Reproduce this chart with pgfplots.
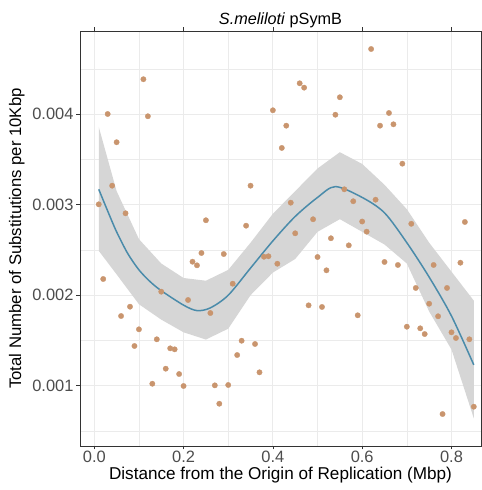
\documentclass[border=0pt]{standalone}
\usepackage{pgfplots}
\pgfplotsset{compat=1.18}
\usepackage{fontspec}
\setmainfont{Liberation Sans}
\definecolor{ptcol}{HTML}{C9956E}
\definecolor{fitcol}{HTML}{4A8BAA}
\definecolor{bandcol}{HTML}{D6D6D6}
\definecolor{gridcol}{HTML}{EBEBEB}
\definecolor{tickcol}{HTML}{4D4D4D}
\definecolor{framecol}{HTML}{333333}
\begin{document}
\begin{tikzpicture}[x=1bp,y=1bp]
\begin{axis}[
  name=ax,
  at={(0,0)}, anchor=south west,
  scale only axis,
  width=401bp, height=415bp,
  xmin=-0.032, xmax=0.8661,
  ymin=0.000334, ymax=0.004919,
  axis line style={framecol, line width=0.7pt},
  xtick={0,0.2,0.4,0.6,0.8},
  xticklabels={0.0,0.2,0.4,0.6,0.8},
  ytick={0.001,0.002,0.003,0.004},
  yticklabels={0.001,0.002,0.003,0.004},
  minor xtick={0.1,0.3,0.5,0.7},
  minor ytick={0.0005,0.0015,0.0025,0.0035,0.0045},
  scaled ticks=false,
  grid=both,
  major grid style={gridcol, line width=0.8pt},
  minor grid style={gridcol, line width=0.4pt},
  tick align=outside,
  major tick length=3.5bp,
  minor tick length=0pt,
  tick style={framecol, line width=0.6pt},
  ticklabel style={font=\fontsize{16.5}{19}\selectfont, text=tickcol},
  xticklabel style={yshift=1.5bp},
  yticklabel style={xshift=0.5bp},
  xlabel={Distance from the Origin of Replication (Mbp)},
  ylabel={Total Number of Substitutions per 10Kbp},
  xlabel style={font=\fontsize{17.2}{20}\selectfont, text=black, yshift=3bp},
  ylabel style={font=\fontsize{16.8}{19}\selectfont, text=black, yshift=1bp},
  title={\textit{S.meliloti} pSymB},
  title style={font=\fontsize{16.3}{19}\selectfont, yshift=-6bp},
  clip=true,
]
% confidence band
\addplot[draw=none, fill=bandcol, mark=none] coordinates {
(0.01,0.00386) (0.05,0.00315) (0.10,0.00262) (0.15,0.00235) (0.20,0.00219)
(0.25,0.00216) (0.30,0.00228) (0.35,0.00258) (0.40,0.00290) (0.45,0.00315)
(0.50,0.00340) (0.55,0.00358) (0.60,0.00345) (0.65,0.00322) (0.70,0.00295)
(0.75,0.00258) (0.80,0.00226) (0.85,0.00194)
(0.85,0.00064) (0.80,0.00140) (0.75,0.00182) (0.70,0.00235) (0.65,0.00256)
(0.60,0.00270) (0.55,0.00284) (0.50,0.00270) (0.45,0.00240) (0.40,0.00225)
(0.35,0.00200) (0.30,0.00163) (0.25,0.00151) (0.20,0.00159) (0.15,0.00173)
(0.10,0.00190) (0.05,0.00223) (0.01,0.00249)
} -- cycle;
% points
\addplot[only marks, mark=*, color=ptcol, mark size=2.7bp, mark options={solid, draw=ptcol, fill=ptcol, line width=0.3pt}] coordinates {
(0.01,0.003004) (0.02,0.002179) (0.03,0.004002) (0.04,0.003210) (0.05,0.003690)
(0.06,0.001770) (0.07,0.002905) (0.08,0.001873) (0.09,0.001439) (0.10,0.001623)
(0.11,0.004386) (0.12,0.003977) (0.13,0.001022) (0.14,0.001513) (0.15,0.002039)
(0.16,0.001188) (0.17,0.001413) (0.18,0.001402) (0.19,0.001129) (0.20,0.000997)
(0.21,0.001947) (0.22,0.002370) (0.23,0.002330) (0.24,0.002466) (0.25,0.002828)
(0.26,0.001803) (0.27,0.001004) (0.28,0.000801) (0.29,0.002455) (0.30,0.001008)
(0.31,0.002127) (0.32,0.001339) (0.33,0.001497) (0.34,0.002768) (0.35,0.003210)
(0.36,0.001461) (0.37,0.001148) (0.38,0.002425) (0.39,0.002430) (0.40,0.004043)
(0.41,0.002348) (0.42,0.003627) (0.43,0.003873) (0.44,0.003022) (0.45,0.002684)
(0.46,0.004341) (0.47,0.004293) (0.48,0.001888) (0.49,0.002839) (0.50,0.002422)
(0.51,0.001870) (0.52,0.002275) (0.53,0.002629) (0.54,0.003994) (0.55,0.004187)
(0.56,0.003170) (0.57,0.002551) (0.58,0.003038) (0.59,0.001778) (0.60,0.002814)
(0.61,0.002702) (0.62,0.004720) (0.63,0.003055) (0.64,0.003873) (0.65,0.002367)
(0.66,0.004013) (0.67,0.003888) (0.68,0.002334) (0.69,0.003453) (0.70,0.001652)
(0.71,0.002789) (0.72,0.002080) (0.73,0.001634) (0.74,0.001571) (0.75,0.001906)
(0.76,0.002334) (0.77,0.001767) (0.78,0.000687) (0.79,0.002080) (0.80,0.001590)
(0.81,0.001527) (0.82,0.002359) (0.83,0.002809) (0.84,0.001513) (0.85,0.000768)
};
% smooth fit
\addplot[fitcol, line width=1.5pt, smooth, tension=0.5, mark=none] coordinates {
(0.01,0.00317) (0.03,0.00293) (0.05,0.00270) (0.075,0.00246) (0.10,0.00228) (0.125,0.00215) (0.15,0.00205) (0.20,0.00189)
(0.23,0.00183) (0.26,0.00186) (0.30,0.00200) (0.35,0.00230) (0.40,0.00260)
(0.45,0.00287) (0.50,0.00308) (0.54,0.00320) (0.60,0.00308) (0.65,0.00291)
(0.70,0.00258) (0.75,0.00220) (0.80,0.00177) (0.85,0.00123)
};
\end{axis}
\pgfresetboundingbox
\path (ax.south west) ++(-80bp,-44bp) rectangle ++(482bp,490bp);
\end{tikzpicture}
\end{document}
